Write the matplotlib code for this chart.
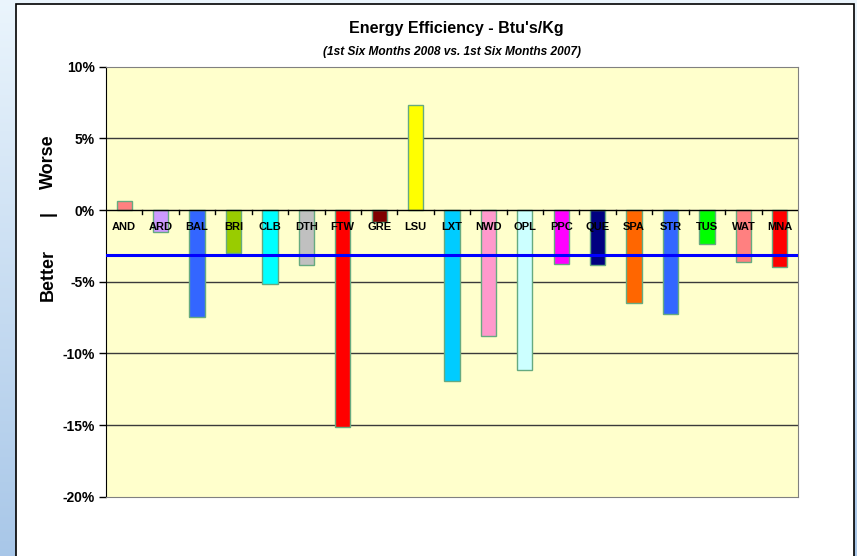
import numpy as np
import matplotlib
matplotlib.use("Agg")
import matplotlib.pyplot as plt
from matplotlib.patches import Rectangle
from matplotlib.ticker import FuncFormatter

plt.rcParams['font.family'] = ['Liberation Sans', 'DejaVu Sans']

# data
sites  = ["AND", "ARD", "BAL", "BRI", "CLB", "DTH", "FTW", "GRE", "LSU", "LXT",
          "NWD", "OPL", "PPC", "QUE", "SPA", "STR", "TUS", "WAT", "MNA"]
change = [0.63, -1.51, -7.44, -3.02, -5.19, -3.81, -15.14, -0.81, 7.33, -11.91,
          -8.77, -11.14, -3.77, -3.81, -6.51, -7.26, -2.40, -3.63, -4.00]
colors = ["#FF8080", "#CC99FF", "#3366FF", "#99CC00", "#00FFFF", "#C0C0C0",
          "#FF0000", "#800000", "#FFFF00", "#00CCFF", "#FF99CC", "#CCFFFF",
          "#FF00FF", "#000080", "#FF6600", "#3366FF", "#00FF00", "#FF8080",
          "#FF0000"]
average = -3.14
yticks  = [10, 5, 0, -5, -10, -15, -20]

W, H = 857, 556
fig = plt.figure(figsize=(W / 100, H / 100), dpi=100)

# light blue slide background
bg = fig.add_axes([0, 0, 1, 1], zorder=-10)
grad = np.linspace(0, 1, 256).reshape(-1, 1)
top = np.array([0.92, 0.96, 0.99])
bot = np.array([0.66, 0.78, 0.91])
img = top + (bot - top) * grad[:, :, None]
bg.imshow(img, aspect="auto", extent=[0, 1, 0, 1])
bg.set_axis_off()

# white chart frame
fig.patches.append(Rectangle((16 / W, -0.02), (854 - 16) / W, 1 - 4 / H + 0.02,
                             transform=fig.transFigure, facecolor="white",
                             edgecolor="black", linewidth=1.2, zorder=-5))

ax = fig.add_axes([106 / W, 1 - 496.7 / H, (798 - 106) / W, (496.7 - 66.7) / H])
ax.set_facecolor("#FFFFCC")

x = np.arange(len(sites))
ax.bar(x, change, width=0.42, color=colors, edgecolor="#66AA80", linewidth=1, zorder=3)
ax.axhline(average, color="#0000FF", linewidth=2.2, zorder=4)

for t in yticks:
    if t not in (0, 10, -20):
        ax.axhline(t, color="#3a3a3a", linewidth=1, zorder=1)
ax.axhline(0, color="black", linewidth=1, zorder=5)

ax.set_xlim(-0.5, len(sites) - 0.5)
ax.set_ylim(-20, 10)
ax.set_yticks(yticks)
ax.yaxis.set_major_formatter(FuncFormatter(lambda v, p: "%d%%" % v))
ax.tick_params(axis="y", length=5, width=1, labelsize=10, pad=3)
for lab in ax.get_yticklabels():
    lab.set_fontweight("bold")

# category ticks on the zero line
ax.set_xticks([])
for b in np.arange(0.5, len(sites) - 1, 1.0):
    ax.plot([b, b], [0, -0.25], color="black", linewidth=1, zorder=5, clip_on=False)
for i, s in enumerate(sites):
    ax.text(i, -1.15, s, ha="center", va="center", fontsize=8, fontweight="bold", zorder=6)

for side in ["top", "right", "bottom"]:
    ax.spines[side].set_color("#808080")
ax.spines["left"].set_color("black")

fig.text(456 / W, 1 - 28 / H, "Energy Efficiency - Btu's/Kg", ha="center", va="center",
         fontsize=11.5, fontweight="bold")
fig.text(452 / W, 1 - 52 / H, "(1st Six Months 2008 vs. 1st Six Months 2007)", ha="center",
         va="center", fontsize=8.6, fontweight="bold", style="italic")
fig.text(48 / W, 1 - 275 / H, "Better", ha="center", va="center", rotation=90,
         fontsize=13, fontweight="bold")
fig.text(48 / W, 1 - 214 / H, "|", ha="center", va="center", rotation=90,
         fontsize=13, fontweight="bold")
fig.text(48 / W, 1 - 162 / H, "Worse", ha="center", va="center", rotation=90,
         fontsize=13, fontweight="bold")

fig.savefig("out.png", dpi=100)
